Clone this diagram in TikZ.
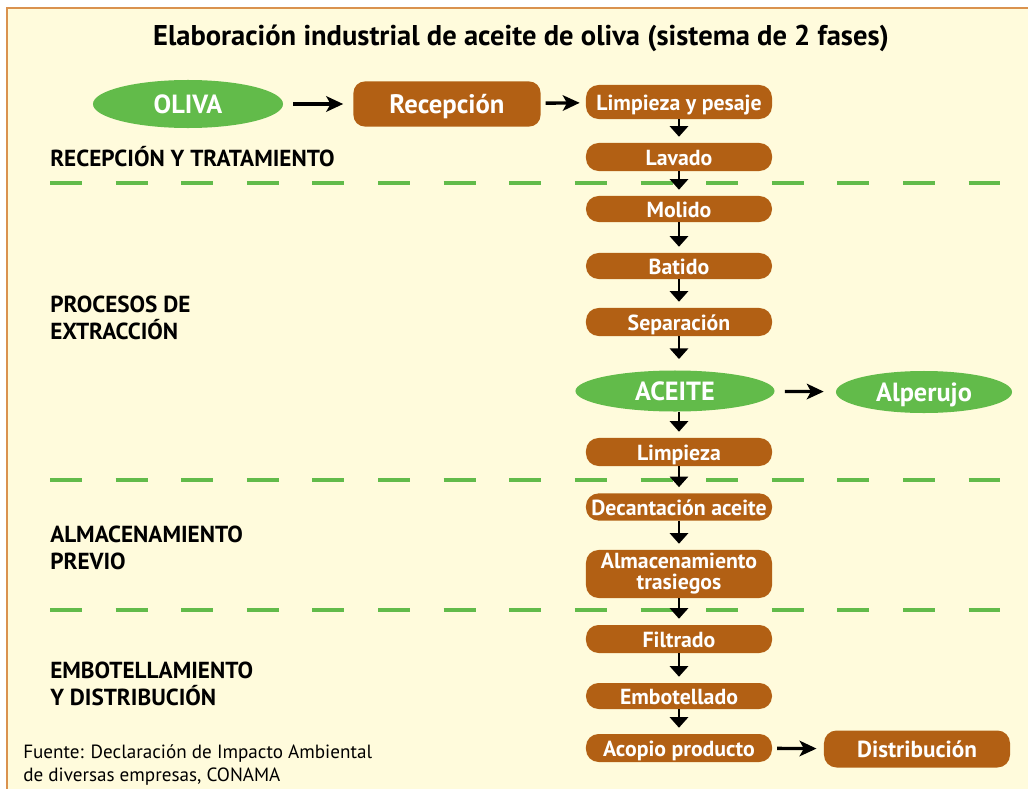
\documentclass[tikz,border=0pt]{standalone}
\usepackage{fontspec}
\setmainfont{PT Sans}
\usepackage{tikz}
\usetikzlibrary{arrows.meta,shapes.geometric}
\definecolor{fondo}{RGB}{255,251,220}
\definecolor{marco}{RGB}{218,146,78}
\definecolor{cafe}{RGB}{178,96,20}
\definecolor{verde}{RGB}{98,187,74}
\newcommand{\drawSep}[1]{
    \draw[sepline] (50,#1) -- (1000,#1)
}

\begin{document}
\begin{tikzpicture}[x=0.025cm,y=-0.025cm,
    caja/.style={draw=none, fill=cafe, text=white, font=\bfseries\fontsize{15.5}{15}\selectfont, rounded corners=9pt, minimum width=4.65cm, minimum height=0.7cm, inner sep=0pt, align=center, text height=11.5pt, text depth=0pt},
    ovalo/.style={ellipse, fill=verde, text=white, font=\bfseries\fontsize{18.7}{20}\selectfont, inner sep=0pt, text height=13pt, text depth=0pt},
    etapa/.style={anchor=west, inner sep=0pt, font=\bfseries\fontsize{16.5}{19.2}\selectfont, align=left},
    sepline/.style={verde, line width=2.2pt, dash pattern=on 0.8cm off 0.84cm},
    flecha/.style={line width=1.4pt, -{Triangle[length=7.5pt, width=13pt]}, shorten >=0.15cm},
    flechah/.style={line width=2.4pt, -{Stealth[length=12pt, width=11pt, inset=3pt]}}]
            \useasboundingbox (0,0) rectangle (1028,789);
            \fill[white] (0,0) rectangle (1028,789);
            \fill[fondo] (7,8) rectangle (1028,789);
            \draw[marco, line width=1.5pt] (7,789) -- (7,8) -- (1028,8);

            \node[font=\bfseries\fontsize{20.3}{22}\selectfont] (titulo) at (521,38) {Elaboración industrial de aceite de oliva (sistema de 2 fases)};

            \node[ovalo, minimum width=4.75cm, minimum height=1.2cm] (oliva) at (188,104) {OLIVA};
            \node[caja, minimum width=4.675cm, minimum height=1.125cm, rounded corners=8pt, text height=12.8pt, font=\bfseries\fontsize{19}{20}\selectfont] (recepcion) at (447,104) {Recepción};
            \node[caja, minimum height=0.85cm] (pesaje) at (679,102) {Limpieza y pesaje};
            \node[caja] (lavado) at (679,157) {Lavado};
            \node[caja, minimum height=0.65cm] (molido) at (679,209) {Molido};
            \node[caja, minimum height=0.65cm] (batido) at (679,266) {Batido};
            \node[caja] (separacion) at (679,322) {Separación};
            \node[ovalo, minimum width=4.975cm, minimum height=1.025cm] (aceite) at (675,391) {ACEITE};
            \node[ovalo, minimum width=4.4cm, minimum height=1.05cm] (alperujo) at (924,392) {Alperujo};
            \node[caja] (limpieza) at (679,452) {Limpieza};
            \node[caja, minimum height=0.68cm] (decantacion) at (679,507) {Decantación aceite};
            \node[caja, minimum height=1.2cm, text height=, text depth=] (almacen) at (679,574) {Almacenamiento\\trasiegos};
            \node[caja] (filtrado) at (679,639) {Filtrado};
            \node[caja, minimum height=0.65cm] (embotellado) at (679,696) {Embotellado};
            \node[caja] (acopio) at (679,748) {Acopio producto};
            \node[caja, minimum height=0.925cm, text height=12pt, font=\bfseries\fontsize{16.5}{17}\selectfont] (distribucion) at (917,749) {Distribución};

            \node[etapa] (recTrat) at (50,157) {RECEPCIÓN Y TRATAMIENTO};
            \node[etapa] (extraccion) at (50,318) {PROCESOS DE\\EXTRACCIÓN};
            \node[etapa] (previo) at (50,548) {ALMACENAMIENTO\\PREVIO};
            \node[etapa] (embotDist) at (50,684) {EMBOTELLAMIENTO\\Y DISTRIBUCIÓN};
            \node[anchor=west, inner sep=0pt, align=left, font=\fontsize{13.6}{16.4}\selectfont] (fuente) at (23,765) {Fuente: Declaración de Impacto Ambiental\\de diversas empresas, CONAMA};

            \drawSep{183};
            \drawSep{480};
            \drawSep{610};

            \draw[flechah, shorten <=0.25cm, shorten >=0.25cm] (oliva) -- (recepcion);
            \draw[flechah, shorten <=0.12cm, shorten >=0.15cm] (recepcion) -- (pesaje);
            \draw[flechah, shorten <=0.25cm, shorten >=0.3cm] (aceite) -- (alperujo);
            \draw[flechah, shorten <=0.12cm, shorten >=0.18cm] (acopio) -- (distribucion);

            \draw[flecha] (pesaje) -- (lavado);
            \draw[flecha] (lavado) -- (molido);
            \draw[flecha] (molido) -- (batido);
            \draw[flecha] (batido) -- (separacion);
            \draw[flecha, shorten >=0.28cm] (separacion.south) -- (separacion.south |- aceite.north);
            \draw[flecha] (aceite.south -| limpieza) -- (limpieza);
            \draw[flecha] (limpieza) -- (decantacion);
            \draw[flecha] (decantacion) -- (almacen);
            \draw[flecha] (almacen) -- (filtrado);
            \draw[flecha] (filtrado) -- (embotellado);
            \draw[flecha] (embotellado) -- (acopio);

        \end{tikzpicture}
\end{document}
